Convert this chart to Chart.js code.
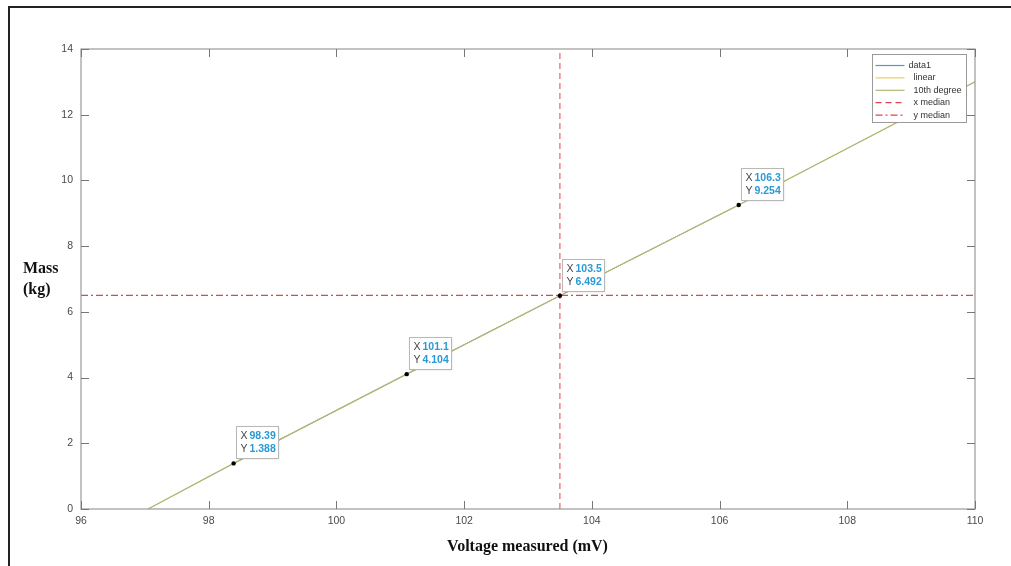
<!DOCTYPE html>
<html>
<head>
<meta charset="utf-8">
<script src="https://cdn.jsdelivr.net/npm/chart.js@4.4.0/dist/chart.umd.min.js"></script>
<style>
  html, body { margin: 0; padding: 0; background: #fff; }
  #wrap { position: relative; width: 1011px; height: 566px; overflow: hidden; }
  #frame { position: absolute; left: 8px; top: 6px; right: -10px; bottom: -10px;
    border-left: 2px solid #222; border-top: 2px solid #222; }
  canvas { position: absolute; left: 0; top: 0; }
  .axtitle { position: absolute; font-family: "Liberation Serif", "Times New Roman", serif;
    font-weight: bold; font-size: 16px; color: #111; line-height: 21px; }
</style>
</head>
<body>
<div id="wrap">
  <div id="frame"></div>
  <canvas id="chart" width="1011" height="566"></canvas>
  <div class="axtitle" style="left:23px; top:257px;">Mass<br>(kg)</div>
  <div class="axtitle" style="left:0; width:1011px; text-align:center; top:535px; padding-left:44px; box-sizing:border-box;">Voltage measured (mV)</div>
</div>
<script>
// data
const tipX = [98.39, 101.1, 103.5, 106.3];
const tipY = [1.388, 4.104, 6.492, 9.254];
const fitX = [97.05, 98.39, 101.1, 103.5, 106.3, 110];
const fitY = [0, 1.388, 4.104, 6.492, 9.254, 13.0];
const medianX = 103.5;
const medianY = 6.5;
const xTicks = [96, 98, 100, 102, 104, 106, 108, 110];
const yTicks = [0, 2, 4, 6, 8, 10, 12, 14];

const pts = (xs, ys) => xs.map((x, i) => ({ x: x, y: ys[i] }));
const RED = "#e0454b";

// higher "order" is painted first (underneath)
const datasets = [
  { label: "data1", data: pts(tipX, tipY), borderColor: "#5a92d6", borderWidth: 1, pointRadius: 0, order: 5 },
  { label: "linear", data: pts(fitX, fitY), borderColor: "#e6cf6a", borderWidth: 1, pointRadius: 0, order: 4 },
  { label: "10th degree", data: pts(fitX, fitY), borderColor: "#abb87a", borderWidth: 1.2, pointRadius: 0, order: 3 },
  { label: "x median", data: [{ x: medianX, y: 0 }, { x: medianX, y: 14 }], borderColor: RED, borderWidth: 1, borderDash: [6, 4], pointRadius: 0, order: 2 },
  { label: "y median", data: [{ x: 96, y: medianY }, { x: 110, y: medianY }], borderColor: RED, borderWidth: 1.3, borderDash: [7, 3, 2, 3], pointRadius: 0, order: 1 },
  { label: "tips", data: pts(tipX, tipY), showLine: false, pointRadius: 2.2, pointBackgroundColor: "#000", pointBorderColor: "#000", borderWidth: 0, order: 0 },
];

// axes box with inward ticks on all four sides
const boxPlugin = {
  id: "box",
  afterDatasetsDraw(chart) {
    const { ctx, chartArea: a, scales } = chart;
    ctx.save();
    ctx.strokeStyle = "#9a9a9a";
    ctx.lineWidth = 1.2;
    ctx.strokeRect(a.left, a.top, a.right - a.left, a.bottom - a.top);
    ctx.lineWidth = 1;
    ctx.strokeStyle = "#777";
    const L = 8;
    ctx.beginPath();
    xTicks.forEach((v) => {
      const px = Math.round(scales.x.getPixelForValue(v)) + 0.5;
      ctx.moveTo(px, a.bottom); ctx.lineTo(px, a.bottom - L);
      ctx.moveTo(px, a.top); ctx.lineTo(px, a.top + L);
    });
    yTicks.forEach((v) => {
      const py = Math.round(scales.y.getPixelForValue(v)) + 0.5;
      ctx.moveTo(a.left, py); ctx.lineTo(a.left + L, py);
      ctx.moveTo(a.right, py); ctx.lineTo(a.right - L, py);
    });
    ctx.stroke();
    ctx.restore();
  },
};

// datatips next to the marked points
const tipPlugin = {
  id: "tips",
  afterDraw(chart) {
    const { ctx, scales } = chart;
    ctx.save();
    tipX.forEach((xv, i) => {
      const px = scales.x.getPixelForValue(xv);
      const py = scales.y.getPixelForValue(tipY[i]);
      const w = 42, h = 32;
      const bx = Math.round(px + 2) + 0.5, by = Math.round(py - 5 - h) + 0.5;
      ctx.shadowColor = "rgba(0,0,0,0.15)";
      ctx.shadowBlur = 2;
      ctx.fillStyle = "#fff";
      ctx.fillRect(bx, by, w, h);
      ctx.shadowColor = "transparent";
      ctx.strokeStyle = "#b8b8b8";
      ctx.lineWidth = 1;
      ctx.strokeRect(bx, by, w, h);
      ctx.textBaseline = "middle";
      ctx.font = "10.5px 'Liberation Sans', Arial, sans-serif";
      ctx.fillStyle = "#444";
      ctx.fillText("X", bx + 4, by + 10);
      ctx.fillText("Y", bx + 4, by + 23);
      ctx.font = "bold 10.5px 'Liberation Sans', Arial, sans-serif";
      ctx.fillStyle = "#2a9ad6";
      ctx.fillText(String(xv), bx + 13, by + 10);
      ctx.fillText(String(tipY[i]), bx + 13, by + 23);
    });
    ctx.restore();
  },
};

// MATLAB-style legend box in the upper right
const legendPlugin = {
  id: "matlabLegend",
  afterDraw(chart) {
    const { ctx, chartArea: a } = chart;
    const items = chart.data.datasets.slice(0, 5);
    const bx = a.right - 102.5, by = a.top + 5.5, w = 94, h = 68;
    ctx.save();
    ctx.fillStyle = "#fff";
    ctx.fillRect(bx, by, w, h);
    ctx.strokeStyle = "#9a9a9a";
    ctx.lineWidth = 1;
    ctx.strokeRect(bx, by, w, h);
    ctx.font = "9px 'Liberation Sans', Arial, sans-serif";
    ctx.textBaseline = "middle";
    items.forEach((ds, i) => {
      const y = by + 11 + i * 12.4;
      ctx.strokeStyle = ds.borderColor;
      ctx.lineWidth = 1.2;
      ctx.setLineDash(ds.borderDash || []);
      ctx.beginPath();
      ctx.moveTo(bx + 3, y); ctx.lineTo(bx + 32, y);
      ctx.stroke();
      ctx.setLineDash([]);
      ctx.fillStyle = "#333";
      ctx.fillText(ds.label, bx + (i === 0 ? 36 : 41), y);
    });
    ctx.restore();
  },
};

new Chart(document.getElementById("chart"), {
  type: "line",
  data: { datasets: datasets },
  plugins: [boxPlugin, legendPlugin, tipPlugin],
  options: {
    responsive: false,
    animation: false,
    events: [],
    layout: { padding: { top: 49, right: 36, left: 0, bottom: 0 } },
    plugins: { legend: { display: false }, tooltip: { enabled: false } },
    scales: {
      x: {
        type: "linear", min: 96, max: 110,
        afterBuildTicks: (s) => { s.ticks = xTicks.map((v) => ({ value: v })); },
        afterFit: (s) => { s.height = 57; },
        grid: { display: false, drawTicks: false },
        border: { display: false },
        ticks: { padding: 6, color: "#4a4a4a", font: { size: 10.5, family: "'Liberation Sans', Arial, sans-serif" } },
      },
      y: {
        type: "linear", min: 0, max: 14,
        afterBuildTicks: (s) => { s.ticks = yTicks.map((v) => ({ value: v })); },
        afterFit: (s) => { s.width = 81; },
        grid: { display: false, drawTicks: false },
        border: { display: false },
        ticks: { padding: 8, color: "#4a4a4a", font: { size: 10.5, family: "'Liberation Sans', Arial, sans-serif" } },
      },
    },
  },
});
</script>
</body>
</html>
